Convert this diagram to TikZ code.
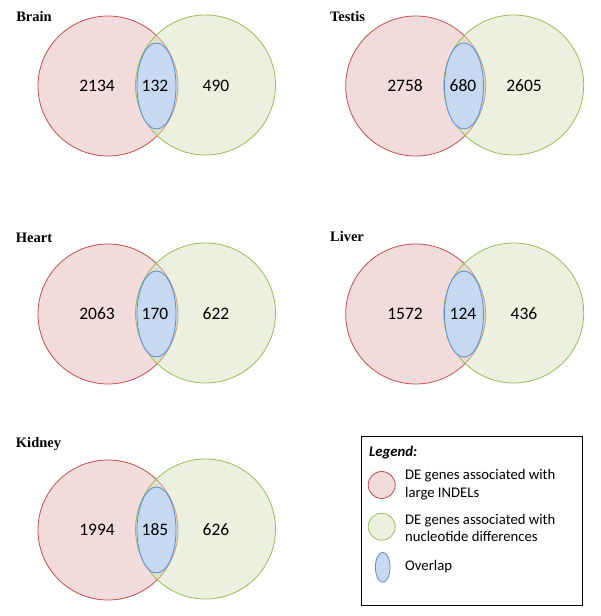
\documentclass[tikz,border=0pt]{standalone}
\usepackage{fontspec}
\setmainfont{Carlito}
\newfontfamily\titlefont{Liberation Serif}
\usepackage{xcolor}
\usepackage{tikz}
\usetikzlibrary{shapes.geometric, positioning}

\definecolor{indelfill}{HTML}{F2DCDB}
\definecolor{indeldraw}{HTML}{C0504D}
\definecolor{snpfill}{HTML}{D7E3BD}
\definecolor{snpdraw}{HTML}{9BBB59}
\definecolor{ovfill}{HTML}{C6D9F1}
\definecolor{ovdraw}{HTML}{558ED5}

\begin{document}
\begin{tikzpicture}[
    x=1pt, y=-1pt,
    indel/.style={circle, draw=indeldraw, fill=indelfill, line width=0.8pt, minimum size=140pt, inner sep=0pt},
    snp/.style={circle, draw=snpdraw, fill=snpfill, fill opacity=0.5, draw opacity=1, line width=0.8pt, minimum size=140pt, inner sep=0pt},
    overlap/.style={ellipse, draw=ovdraw, fill=ovfill, line width=0.8pt, minimum width=39pt, minimum height=86pt, inner sep=0pt},
    num/.style={font=\fontsize{17.5}{20}\selectfont, inner sep=1pt},
    tissue/.style={font=\fontsize{14.5}{16}\titlefont\bfseries, inner sep=1pt},
    legtext/.style={anchor=west, align=left, font=\fontsize{14.7}{17.5}\selectfont, inner sep=1pt}
]
    \useasboundingbox (0,0) rectangle (600,616);

    % Brain
    \node (brain) [tissue] at (34,17) {Brain};
    \node (brainI) [indel] at (108,86) {};
    \node (brainS) [snp] at (205.5,85) {};
    \node (brainO) [overlap] at (156.5,86) {};
    \node (brainIn) [num] at (97,86) {2134};
    \node (brainOn) [num] at (155,86) {132};
    \node (brainSn) [num] at (216,86) {490};

    % Testis
    \node (testis) [tissue] at (347.5,17) {Testis};
    \node (testisI) [indel] at (415.7,86) {};
    \node (testisS) [snp] at (513.7,85) {};
    \node (testisO) [overlap] at (464,86) {};
    \node (testisIn) [num] at (405,86) {2758};
    \node (testisOn) [num] at (463,86) {680};
    \node (testisSn) [num] at (524,86) {2605};

    % Heart
    \node (heart) [tissue] at (34,238) {Heart};
    \node (heartI) [indel] at (108,314) {};
    \node (heartS) [snp] at (205.5,313) {};
    \node (heartO) [overlap] at (156.5,314) {};
    \node (heartIn) [num] at (97,314) {2063};
    \node (heartOn) [num] at (155,314) {170};
    \node (heartSn) [num] at (216,314) {622};

    % Liver
    \node (liver) [tissue] at (347,237) {Liver};
    \node (liverI) [indel] at (415.7,314) {};
    \node (liverS) [snp] at (513.7,313) {};
    \node (liverO) [overlap] at (464,314) {};
    \node (liverIn) [num] at (405,314) {1572};
    \node (liverOn) [num] at (463,314) {124};
    \node (liverSn) [num] at (524,314) {436};

    % Kidney
    \node (kidney) [tissue] at (38.5,444) {Kidney};
    \node (kidneyI) [indel] at (108,530) {};
    \node (kidneyS) [snp] at (205.5,529) {};
    \node (kidneyO) [overlap] at (156.5,530) {};
    \node (kidneyIn) [num] at (97,530) {1994};
    \node (kidneyOn) [num] at (155,530) {185};
    \node (kidneySn) [num] at (216,530) {626};

    % Legend
    \node (legend) [draw=black, line width=1pt, minimum width=221pt, minimum height=169pt, inner sep=0pt] at (471.5,520.5) {};
    \node (legtitle) [legtext] at (368,453) {\textbf{\textit{Legend:}}};
    \node (legI) [indel, minimum size=27pt] at (381.7,485) {};
    \node (legS) [snp, minimum size=27pt] at (381.7,526.7) {};
    \node (legO) [overlap, minimum width=14.6pt, minimum height=30pt] at (382.7,567.3) {};
    \node (legIt) [legtext] at (404,484.5) {DE genes associated with\\large INDELs};
    \node (legSt) [legtext] at (404,528) {DE genes associated with\\nucleotide differences};
    \node (legOt) [legtext] at (404,566.7) {Overlap};

\end{tikzpicture}
\end{document}
